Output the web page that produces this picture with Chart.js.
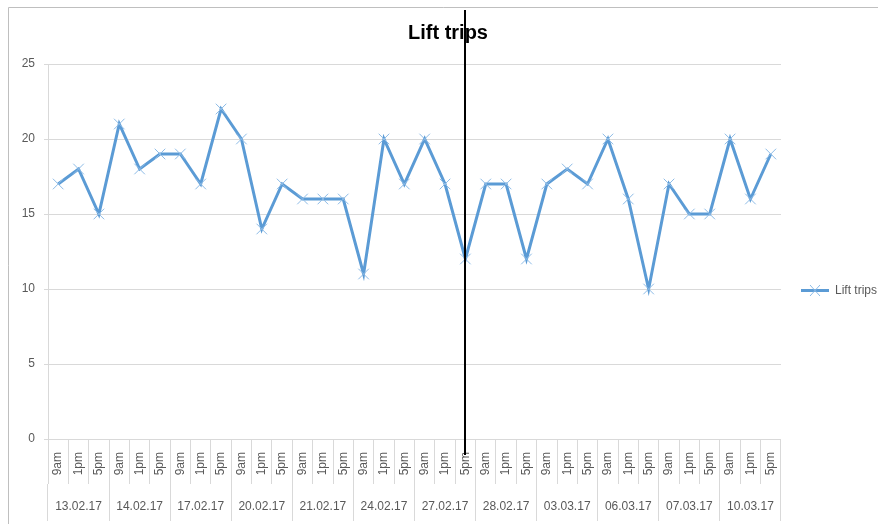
<!DOCTYPE html>
<html>
<head>
<meta charset="utf-8">
<script src="https://cdn.jsdelivr.net/npm/chart.js@4.4.1/dist/chart.umd.min.js"></script>
<style>
  html, body { margin: 0; padding: 0; background: #ffffff; }
  canvas { display: block; }
</style>
</head>
<body>
<canvas id="grafica" width="878" height="524"></canvas>
<script>
// --- datos del gráfico ---
const fechas = ['13.02.17', '14.02.17', '17.02.17', '20.02.17', '21.02.17', '24.02.17',
                '27.02.17', '28.02.17', '03.03.17', '06.03.17', '07.03.17', '10.03.17'];
const horas = ['9am', '1pm', '5pm'];
const viajes = [17, 18, 15,  21, 18, 19,  19, 17, 22,  20, 14, 17,
                16, 16, 16,  11, 20, 17,  20, 17, 12,  17, 17, 12,
                17, 18, 17,  20, 16, 10,  17, 15, 15,  20, 16, 19];
const marcaFecha = '27.02.17';
const marcaHora = '5pm';

// etiquetas de la categoría interior (hora), una por punto
const etiquetasHora = [];
fechas.forEach(() => horas.forEach(h => etiquetasHora.push(h)));
const indiceMarca = fechas.indexOf(marcaFecha) * horas.length + horas.indexOf(marcaHora);

const azul = '#5b9bd5';
const azulClaro = '#8dbbe6';
const gris = '#d9d9d9';
const texto = '#595959';
const fuente = 'Liberation Sans, Arial, sans-serif';

// muestra de leyenda: línea con una cruz
function muestraLeyenda() {
    const c = document.createElement('canvas');
    c.width = 28; c.height = 13;
    const g = c.getContext('2d');
    g.strokeStyle = azul; g.lineWidth = 3;
    g.beginPath(); g.moveTo(0, 6.5); g.lineTo(28, 6.5); g.stroke();
    g.strokeStyle = azulClaro; g.lineWidth = 1;
    g.beginPath();
    g.moveTo(9, 1); g.lineTo(19, 12);
    g.moveTo(19, 1); g.lineTo(9, 12);
    g.stroke();
    return c;
}

// borde exterior del gráfico
const bordeExterior = {
    id: 'bordeExterior',
    beforeDraw(chart) {
        const ctx = chart.ctx;
        ctx.save();
        ctx.strokeStyle = '#bfbfbf';
        ctx.lineWidth = 1;
        ctx.beginPath();
        ctx.moveTo(8.5, chart.height);
        ctx.lineTo(8.5, 7.5);
        ctx.lineTo(chart.width, 7.5);
        ctx.stroke();
        ctx.restore();
    }
};

// línea vertical negra sobre el punto marcado
const lineaMarca = {
    id: 'lineaMarca',
    afterDraw(chart) {
        const x = Math.round(chart.scales.x.getPixelForValue(indiceMarca));
        const ctx = chart.ctx;
        ctx.save();
        ctx.strokeStyle = '#000000';
        ctx.lineWidth = 2;
        ctx.beginPath();
        ctx.moveTo(x, 10);
        ctx.lineTo(x, 455);
        ctx.stroke();
        ctx.restore();
    }
};

new Chart(document.getElementById('grafica'), {
    type: 'line',
    data: {
        labels: etiquetasHora,
        datasets: [{
            label: 'Lift trips',
            data: viajes,
            xAxisID: 'x',
            yAxisID: 'y',
            borderColor: azul,
            borderWidth: 3,
            tension: 0,
            fill: false,
            pointStyle: 'crossRot',
            pointRadius: 7.5,
            pointBorderColor: azulClaro,
            pointBorderWidth: 1,
            pointBackgroundColor: azulClaro
        }]
    },
    options: {
        responsive: false,
        animation: false,
        devicePixelRatio: 1,
        layout: { padding: { left: 9, right: -9, top: 0, bottom: 3 } },
        scales: {
            y: {
                min: 0, max: 25,
                afterFit: s => { s.width = 39; },
                ticks: { stepSize: 5, color: texto, padding: 9, font: { family: fuente, size: 12 } },
                grid: { color: gris, tickLength: 4 },
                border: { display: true, color: gris }
            },
            x: {
                type: 'category',
                position: 'bottom',
                offset: true,
                weight: 0,
                afterFit: s => { s.height = 45; },
                ticks: {
                    autoSkip: false, minRotation: 90, maxRotation: 90,
                    padding: -32, color: texto, font: { family: fuente, size: 12 }
                },
                grid: { offset: true, drawOnChartArea: false, tickLength: 45, color: gris },
                border: { display: true, color: gris }
            },
            xFecha: {
                type: 'category',
                labels: fechas,
                position: 'bottom',
                offset: true,
                weight: 1,
                afterFit: s => { s.height = 37; },
                ticks: { autoSkip: false, maxRotation: 0, padding: -22, color: texto, font: { family: fuente, size: 12 } },
                grid: { offset: true, drawOnChartArea: false, tickLength: 37, color: gris },
                border: { display: false }
            }
        },
        plugins: {
            title: {
                display: true,
                text: 'Lift trips',
                color: '#000000',
                font: { family: fuente, size: 20, weight: 'bold', lineHeight: 1.2 },
                padding: { top: 21, bottom: 19 }
            },
            legend: {
                position: 'right',
                title: { display: true, text: '', font: { size: 12, lineHeight: 1 }, padding: { top: 48, bottom: 0 } },
                labels: {
                    color: texto,
                    font: { family: fuente, size: 12 },
                    padding: 20,
                    usePointStyle: true,
                    pointStyleWidth: 28,
                    generateLabels: chart => chart.data.datasets.map((d, i) => ({
                        text: d.label,
                        datasetIndex: i,
                        pointStyle: muestraLeyenda(),
                        fontColor: texto,
                        lineWidth: 0,
                        strokeStyle: azul,
                        fillStyle: azul
                    }))
                }
            },
            tooltip: { enabled: false }
        }
    },
    plugins: [bordeExterior, lineaMarca]
});
</script>
</body>
</html>
